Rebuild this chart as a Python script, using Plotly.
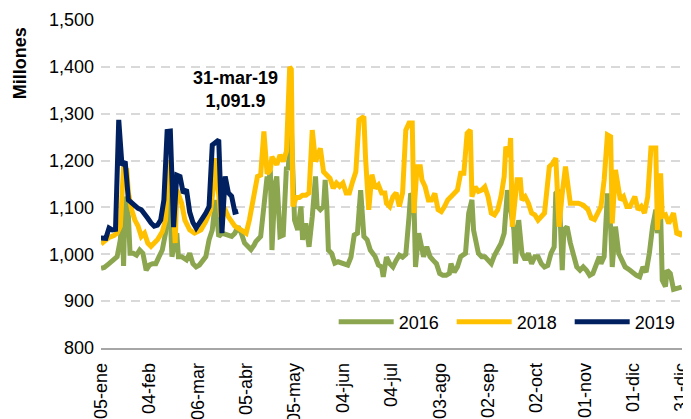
import pandas as pd
import plotly.graph_objects as go

# ---------------- data (day of year on a common axis, values in millones) ----------------
days_2016 = [5, 7, 10, 13, 15, 17, 18, 19, 20, 22, 23, 25, 27, 29, 31, 33, 35, 37, 39, 41, 43, 45, 47, 49, 51, 52, 53,
             55, 58, 60, 62, 64, 66, 68, 70, 72, 74, 76, 78, 80, 83, 86, 88, 90, 92, 94, 96, 98, 100, 101, 104, 106,
             108, 109, 110, 111, 113, 114, 116, 118, 120, 121, 123, 125, 127, 129, 130, 132, 134, 136, 138, 139, 141,
             143, 144, 145, 146, 148, 150, 152, 154, 156, 158, 160, 162, 164, 166, 168, 170, 172, 175, 177, 179, 180,
             182, 184, 186, 188, 190, 192, 194, 196, 197, 199, 200, 202, 205, 207, 209, 211, 213, 215, 217, 219, 221,
             222, 224, 226, 228, 231, 233, 235, 236, 239, 241, 243, 245, 247, 249, 251, 253, 255, 257, 259, 261, 262,
             264, 266, 268, 270, 272, 274, 276, 278, 280, 282, 284, 286, 287, 289, 291, 292, 294, 296, 298, 300, 302,
             304, 306, 308, 310, 312, 314, 315, 317, 319, 321, 322, 324, 326, 328, 330, 333, 335, 337, 339, 341, 343,
             345, 347, 349, 350, 352, 353, 355, 356, 358, 360, 362, 365]
vals_2016 = [970, 972, 980, 988, 995, 1031, 1080, 975, 1123, 1080, 1002, 1002, 998, 1009, 1002, 966, 977, 980, 980, 995,
             1009, 1045, 1159, 995, 1031, 1045, 995, 995, 988, 1002, 980, 973, 977, 988, 995, 1031, 1052, 1116, 1038,
             1045, 1041, 1038, 1045, 1059, 1045, 1024, 1017, 1010, 1020, 1027, 1038, 1116, 1166, 1152, 1180, 1009,
             1152, 1166, 1038, 1041, 1187, 1180, 1272, 1073, 1052, 1102, 1031, 1066, 1016, 1080, 1166, 1102, 1095,
             1102, 1159, 1102, 1009, 1002, 981, 984, 981, 980, 977, 994, 1041, 1045, 1137, 1038, 1031, 1009, 995, 977,
             973, 952, 994, 980, 973, 987, 998, 994, 1000, 1080, 1130, 1120, 973, 1045, 995, 1016, 995, 987, 980, 959,
             955, 955, 959, 980, 962, 973, 995, 1002, 1088, 1116, 1052, 1002, 995, 995, 988, 980, 998, 1009, 1023,
             1045, 1137, 1095, 1052, 980, 1073, 1002, 988, 1002, 980, 995, 995, 980, 973, 976, 1002, 1016, 1130, 1137,
             966, 1052, 1059, 1024, 995, 973, 966, 973, 966, 955, 959, 980, 995, 980, 995, 1130, 1059, 973, 1059, 1002,
             988, 973, 966, 959, 955, 952, 973, 962, 1002, 1059, 1095, 1045, 1088, 945, 931, 966, 959, 925, 928, 930]

days_2018 = [5, 8, 10, 13, 15, 17, 19, 21, 22, 24, 26, 28, 30, 32, 34, 36, 38, 40, 43, 45, 47, 49, 51, 52, 55, 57, 60,
             63, 67, 70, 73, 75, 76, 79, 82, 84, 88, 92, 95, 97, 100, 102, 104, 106, 108, 110, 111, 114, 116, 118, 120,
             122, 123, 124, 126, 128, 130, 132, 134, 136, 138, 141, 143, 145, 147, 149, 151, 153, 155, 157, 159, 161,
             163, 165, 168, 169, 171, 173, 175, 177, 179, 181, 182, 184, 186, 188, 190, 192, 194, 196, 198, 199, 201,
             203, 204, 206, 208, 210, 212, 214, 216, 218, 220, 222, 224, 226, 228, 230, 232, 234, 235, 237, 239, 241,
             243, 245, 247, 249, 251, 253, 255, 256, 258, 259, 260, 263, 265, 266, 268, 270, 272, 274, 276, 278, 280,
             283, 285, 287, 289, 291, 293, 296, 298, 301, 304, 307, 309, 311, 313, 315, 317, 319, 321, 322, 324, 327,
             329, 331, 333, 335, 336, 338, 340, 342, 344, 346, 349, 350, 352, 353, 355, 357, 360, 362, 364, 365]
vals_2018 = [1022, 1030, 1036, 1040, 1045, 1060, 1187, 1180, 1131, 1095, 1073, 1060, 1038, 1045, 1024, 1017, 1024, 1031,
             1048, 1073, 1201, 1159, 1024, 1138, 1109, 1073, 1052, 1045, 1052, 1070, 1095, 1150, 1205, 1088, 1095, 1080,
             1060, 1050, 1045, 1073, 1123, 1166, 1169, 1262, 1172, 1180, 1208, 1191, 1212, 1198, 1220, 1400, 1395, 1102,
             1121, 1121, 1126, 1126, 1131, 1265, 1198, 1226, 1176, 1170, 1162, 1141, 1152, 1145, 1152, 1131, 1131, 1155,
             1176, 1287, 1294, 1208, 1095, 1170, 1141, 1148, 1131, 1131, 1109, 1102, 1123, 1131, 1102, 1131, 1265, 1280,
             1280, 1088, 1187, 1187, 1159, 1144, 1116, 1116, 1130, 1095, 1091, 1102, 1116, 1123, 1130, 1137, 1173, 1173,
             1258, 1265, 1123, 1144, 1134, 1137, 1144, 1123, 1088, 1084, 1095, 1123, 1166, 1230, 1208, 1248, 1059, 1159,
             1159, 1116, 1123, 1109, 1088, 1084, 1073, 1081, 1088, 1187, 1194, 1205, 1059, 1130, 1187, 1109, 1109, 1109,
             1105, 1095, 1077, 1074, 1088, 1102, 1159, 1255, 1251, 1066, 1180, 1116, 1123, 1102, 1102, 1116, 1123, 1095,
             1102, 1088, 1123, 1227, 1227, 1052, 1173, 1081, 1084, 1066, 1088, 1045, 1042, 1049]

days_2019 = list(range(4, 91, 2))
vals_2019 = [1035, 1034, 1034, 1056, 1052, 1053, 1287, 1190, 1198, 1116, 1109, 1102, 1098, 1095, 1084, 1077, 1067,
             1060, 1062, 1073, 1116, 1262, 1263, 1058, 1169, 1166, 1131, 1138, 1090, 1068, 1056, 1065, 1077, 1088,
             1102, 1233, 1237, 1244, 1045, 1166, 1131, 1124, 1090, 1091.9]

tick_days = [5, 35, 65, 95, 125, 155, 185, 215, 245, 275, 305, 335, 365]
tick_labels = ["05-ene", "04-feb", "06-mar", "05-abr", "05-may", "04-jun", "04-jul",
               "03-ago", "02-sep", "02-oct", "01-nov", "01-dic", "31-dic"]
y_ticks = [800, 900, 1000, 1100, 1200, 1300, 1400, 1500]

last_label = "31-mar-19"
last_value = 1091.9

BASE = pd.Timestamp("2018-01-01")


def to_dates(days):
    return [BASE + pd.Timedelta(days=d - 1) for d in days]


FONT = "Liberation Sans, Arial, sans-serif"
FS = 18

fig = go.Figure()
fig.add_trace(go.Scatter(x=to_dates(days_2016), y=vals_2016, mode="lines", name="2016",
                         line=dict(color="#8BA64F", width=5)))
fig.add_trace(go.Scatter(x=to_dates(days_2018), y=vals_2018, mode="lines", name="2018",
                         line=dict(color="#FFC000", width=5)))
fig.add_trace(go.Scatter(x=to_dates(days_2019), y=vals_2019, mode="lines", name="2019",
                         line=dict(color="#002060", width=5)))

fig.update_layout(
    width=683, height=411,
    margin=dict(l=93, r=9, t=12, b=71, autoexpand=False),
    paper_bgcolor="white", plot_bgcolor="white",
    font=dict(family=FONT, size=FS, color="#000000"),
    showlegend=True,
    legend=dict(orientation="h", x=0.4005, xanchor="left", y=0.079, yanchor="middle",
                bgcolor="rgba(0,0,0,0)", font=dict(size=FS), itemwidth=55,
                entrywidth=48, traceorder="normal"),
    xaxis=dict(type="date",
               range=[to_dates([5])[0], to_dates([365])[0] + pd.Timedelta(hours=6)],
               tickmode="array", tickvals=to_dates(tick_days), ticktext=tick_labels,
               tickangle=-90, showgrid=False, showline=True, linecolor="#A6A6A6",
               linewidth=1.5, ticks="", automargin=False, zeroline=False,
               ticklabelstandoff=6, ticklabeloverflow="allow"),
    yaxis=dict(range=[800, 1500], tickmode="array", tickvals=y_ticks, tickformat=",d",
               showgrid=True, gridcolor="#D9D9D9", gridwidth=1.5, griddash="9px,6px",
               zeroline=False, ticks="", automargin=False, ticklabelstandoff=6),
)

fig.add_annotation(text="Millones", textangle=-90, xref="paper", yref="paper",
                   x=-0.139, y=0.869, xanchor="center", yanchor="middle", showarrow=False,
                   font=dict(size=FS, family=FONT, color="#000000", weight="bold"))
fig.add_annotation(text=f"<b>{last_label}</b><br><b>{last_value:,.1f}</b>",
                   xref="x", yref="y", x=to_dates([88.5])[0], y=1352, showarrow=False,
                   xanchor="center", yanchor="middle",
                   font=dict(size=FS, family=FONT, color="#000000"), align="center")

fig.write_html("out.html")
